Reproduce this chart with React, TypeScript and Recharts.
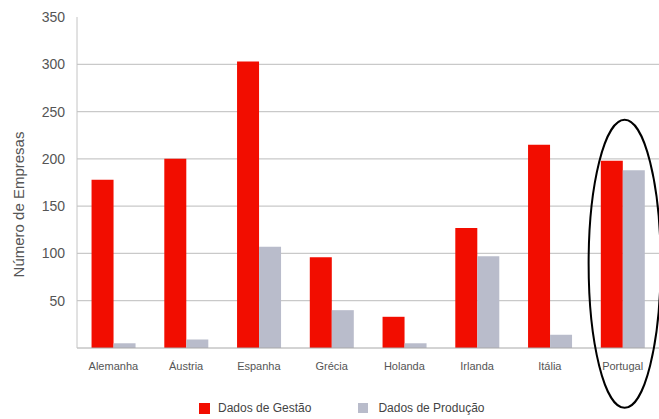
import {
  BarChart,
  Bar,
  XAxis,
  YAxis,
  CartesianGrid,
  Legend,
  ReferenceDot,
} from "recharts";

const paises = ["Alemanha", "Áustria", "Espanha", "Grécia", "Holanda", "Irlanda", "Itália", "Portugal"];
const gestao = [178, 200, 303, 96, 33, 127, 215, 198];
const producao = [5, 9, 107, 40, 5, 97, 14, 188];
const yTicks = [50, 100, 150, 200, 250, 300, 350];
const gridLines = [50, 100, 150, 200, 250, 300];

const data = paises.map((p, i) => ({ pais: p, gestao: gestao[i], producao: producao[i] }));

const RED = "#f20d00";
const GREY = "#b9bccb";
const TEXT = "#555";
const FONT = "'Liberation Sans', Arial, sans-serif";

function LegendBox() {
  return (
    <div style={{ width: 659, height: 18, display: "flex", alignItems: "center", fontFamily: FONT, fontSize: 12, color: "#444" }}>
      <span style={{ width: 11, height: 11, background: RED, marginLeft: 199 }} />
      <span style={{ marginLeft: 8 }}>Dados de Gestão</span>
      <span style={{ width: 10, height: 10, background: GREY, marginLeft: 47 }} />
      <span style={{ marginLeft: 10 }}>Dados de Produção</span>
    </div>
  );
}

// the hand-drawn ring around Portugal
function Ring(props: any) {
  const { cx, cy } = props;
  return <ellipse cx={cx + 2} cy={cy} rx={36} ry={144} fill="none" stroke="#000" strokeWidth={2} />;
}

export default function App() {
  return (
    <div style={{ position: "absolute", left: 0, top: 0, background: "#fff" }}>
      <BarChart
        width={659}
        height={419}
        data={data}
        margin={{ top: 17, right: 0, left: 0, bottom: 2 }}
        barCategoryGap="20%"
        barGap={0}
        style={{ fontFamily: FONT }}
      >
        <CartesianGrid vertical={false} horizontalValues={gridLines} stroke="#c9c9c9" strokeWidth={1.2} />
        <XAxis
          dataKey="pais"
          height={51}
          tickLine={false}
          tickMargin={8}
          axisLine={{ stroke: "#a8a8a8" }}
          tick={{ fill: TEXT, fontSize: 11 }}
          interval={0}
        />
        <YAxis
          width={77}
          domain={[0, 350]}
          ticks={yTicks}
          tickLine={false}
          tickMargin={6}
          axisLine={{ stroke: "#c4c4c4" }}
          tick={{ fill: TEXT, fontSize: 14 }}
          label={{
            value: "Número de Empresas",
            angle: -90,
            position: "center",
            dx: -20,
            dy: 22,
            style: { fill: TEXT, fontSize: 15, textAnchor: "middle" },
          }}
        />
        <Legend verticalAlign="bottom" content={() => <LegendBox />} wrapperStyle={{ left: 0, width: 659, height: 18 }} />
        <Bar dataKey="gestao" name="Dados de Gestão" fill={RED} isAnimationActive={false} />
        <Bar dataKey="producao" name="Dados de Produção" fill={GREY} isAnimationActive={false} />
        <ReferenceDot x="Portugal" y={89} shape={Ring} />
      </BarChart>
    </div>
  );
}
